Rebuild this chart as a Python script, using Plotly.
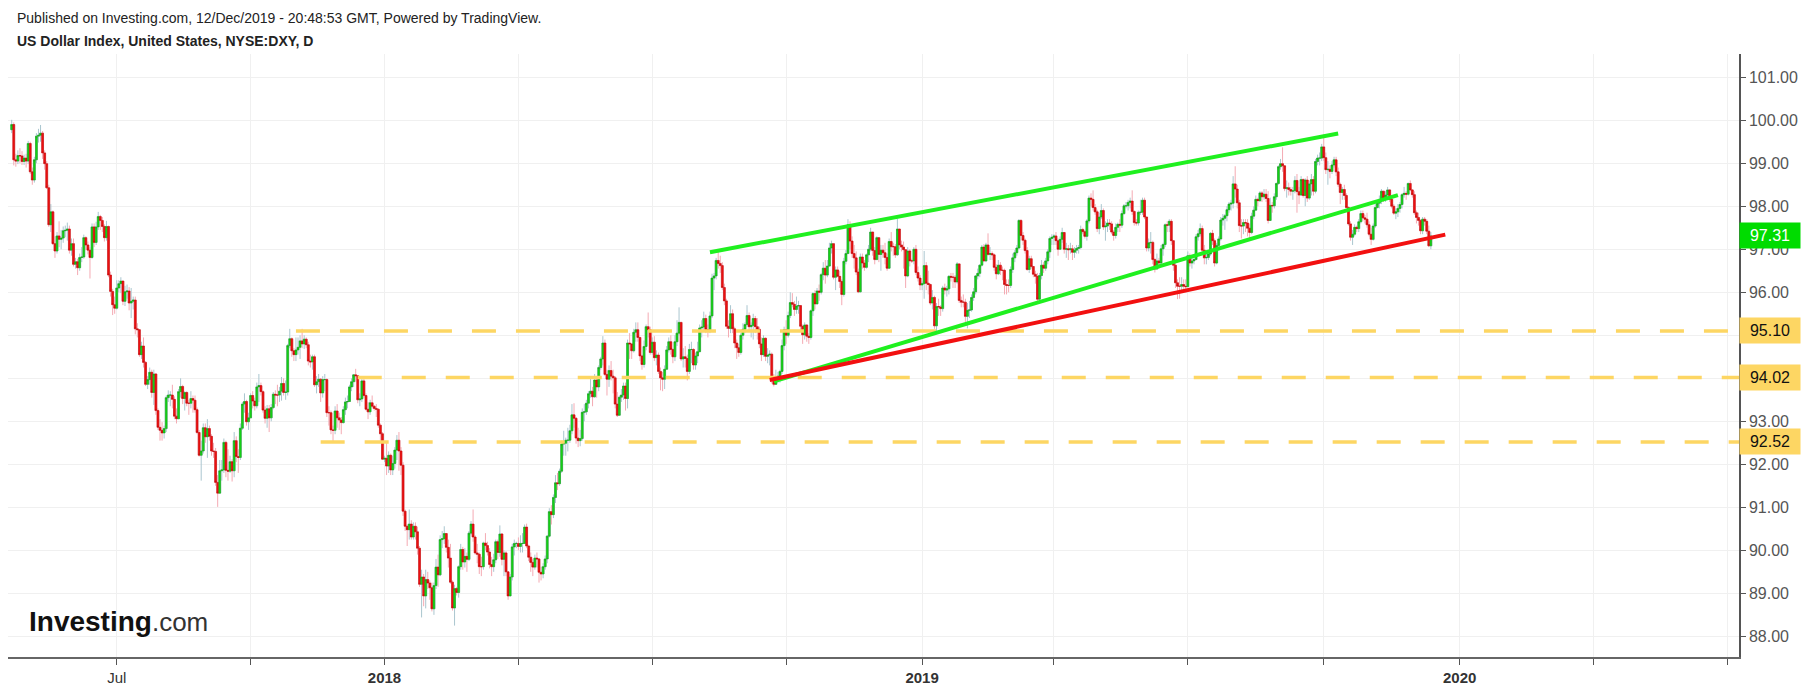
import pandas as pd
import plotly.graph_objects as go

# ---------------- data (US Dollar Index, daily) ----------------
START_DATE = "2017-04-21"
OPEN0 = 99.78

closes = [
    99.90,
    # 2017
    99.08, 99.05, 99.18, 99.17, 99.04,
    99.12, 99.05, 99.46, 98.80, 98.61,
    99.08, 99.63, 99.65, 99.70, 99.24,
    98.99, 98.43, 97.57, 97.87, 97.13,
    96.96, 97.31, 97.23, 97.26, 97.43,
    97.44, 97.47, 96.98, 97.13, 96.65,
    96.71, 96.57, 96.81, 96.82, 97.27,
    97.10, 96.98, 96.81, 97.52, 97.16,
    97.52, 97.76, 97.67, 97.53, 97.27,
    97.53, 96.40, 96.02, 95.71, 95.63,
    96.10, 96.20, 96.26, 95.79, 96.01,
    96.03, 95.75, 95.79, 95.82, 95.15,
    95.13, 94.55, 94.75, 94.37, 93.86,
    93.97, 94.14, 93.67, 94.10, 93.25,
    92.86, 92.79, 92.73, 92.83, 93.55,
    93.61, 93.61, 93.51, 93.12, 93.06,
    93.69, 93.81, 93.53, 93.67, 93.42,
    93.42, 93.53, 93.49, 93.27, 92.74,
    92.21, 92.31, 92.85, 92.64, 92.83,
    92.65, 92.31, 92.30, 91.58, 91.33,
    91.85, 91.87, 92.51, 91.86, 91.84,
    92.06, 91.85, 92.55, 92.18, 92.16,
    92.84, 93.40, 93.46, 92.99, 93.08,
    93.60, 93.47, 93.36, 93.80, 93.83,
    93.69, 93.26, 93.07, 93.29, 93.08,
    93.32, 93.63, 93.61, 93.61, 93.70,
    93.88, 93.67, 93.68, 94.76, 94.92,
    94.64, 94.55, 94.66, 94.72, 94.87,
    94.80, 94.91, 94.78, 94.40, 94.38,
    94.50, 93.85, 93.92, 93.98, 93.66,
    93.97, 93.97, 93.20, 93.20, 92.80,
    92.79, 93.24, 93.08, 93.03, 92.97,
    93.27, 93.45, 93.46, 93.80, 93.92,
    94.08, 94.06, 93.50, 93.52, 93.94,
    93.60, 93.28, 93.22, 93.43, 93.35,
    93.30, 93.28, 92.91, 92.71, 92.12,
    # 2018
    92.14, 91.96, 92.21, 91.87, 92.02,
    92.33, 92.56, 92.31, 91.98, 90.91,
    90.56, 90.48, 90.61, 90.31, 90.56,
    90.43, 90.05, 89.21, 89.38, 88.94,
    89.32, 89.24, 89.13, 88.64, 89.18,
    89.61, 89.43, 90.25, 90.27, 90.39,
    90.07, 89.82, 89.26, 88.66, 89.11,
    89.02, 89.62, 90.02, 89.73, 89.86,
    89.79, 90.40, 90.61, 90.31, 89.94,
    89.91, 89.62, 89.62, 90.17, 90.11,
    89.96, 89.67, 89.62, 89.78, 90.20,
    89.95, 90.38, 89.79, 89.94, 89.50,
    88.94, 89.38, 90.08, 90.16, 90.16,
    90.09, 90.16, 90.16, 90.54, 90.10,
    89.84, 89.72, 89.61, 89.82, 89.80,
    89.49, 89.45, 89.62, 89.80, 90.33,
    90.90, 90.83, 91.23, 91.57, 91.55,
    91.84, 92.47, 92.49, 92.56, 92.56,
    92.78, 93.15, 93.07, 92.61, 92.55,
    92.60, 93.21, 93.22, 93.42, 93.64,
    93.70, 93.57, 93.96, 93.80, 94.25,
    94.45, 94.82, 94.09, 93.98, 94.18,
    94.05, 94.01, 93.40, 93.14, 93.56,
    93.61, 93.82, 93.53, 94.82, 94.80,
    94.64, 95.07, 95.13, 94.95, 94.52,
    94.32, 94.74, 95.20, 95.13, 94.60,
    94.84, 94.48, 94.54, 94.16, 94.01,
    93.98, 94.21, 94.66, 94.85, 94.67,
    94.50, 94.85, 95.05, 95.30, 94.45,
    94.50, 94.46, 94.16, 94.67, 94.67,
    94.31, 94.52, 94.62, 95.17, 95.19,
    95.39, 95.13, 95.10, 95.45, 96.33,
    96.38, 96.74, 96.67, 96.62, 96.11,
    95.80, 95.21, 95.16, 95.50, 95.15,
    94.82, 94.71, 94.60, 95.00, 95.14,
    95.25, 95.46, 95.20, 95.23, 95.39,
    95.20, 95.14, 94.80, 94.55, 94.93,
    94.51, 94.54, 94.56, 93.96, 93.86,
    93.98, 94.05, 94.16, 94.76, 95.13,
    95.00, 95.46, 95.76, 95.72, 95.60,
    95.68, 95.69, 95.21, 95.01, 95.24,
    94.98, 94.95, 95.57, 95.97, 95.73,
    96.03, 96.00, 96.41, 96.56, 96.40,
    96.61, 97.03, 97.13, 96.35, 96.52,
    96.37, 96.25, 95.95, 96.72, 96.90,
    97.57, 97.19, 96.90, 96.80, 96.47,
    96.01, 96.82, 96.68, 96.58, 96.87,
    97.00, 97.40, 96.97, 96.76, 97.27,
    96.88, 96.98, 96.92, 96.81, 96.56,
    97.18, 97.06, 97.06, 96.87, 97.47,
    97.10, 97.05, 96.99, 96.38, 96.96,
    96.73, 96.73, 97.00, 96.46, 96.33,
    # 2019
    96.17, 96.20, 96.62, 96.21, 96.18,
    95.75, 95.88, 95.22, 95.67, 95.66,
    95.62, 96.10, 96.05, 96.08, 96.37,
    96.35, 96.35, 96.24, 96.66, 95.81,
    95.77, 95.77, 95.44, 95.58, 95.59,
    95.88, 96.01, 96.38, 96.44, 96.63,
    97.05, 96.73, 97.10, 96.88, 96.90,
    96.87, 96.58, 96.43, 96.63, 96.51,
    96.51, 96.18, 96.16, 96.16, 96.53,
    96.80, 96.92, 97.03, 97.67, 97.32,
    97.21, 96.97, 96.53, 96.78, 96.60,
    96.42, 96.37, 95.84, 96.39, 96.63,
    96.56, 96.73, 96.94, 97.25, 97.28,
    97.31, 97.20, 97.00, 97.23, 97.39,
    97.00, 97.01, 96.99, 97.01, 96.93,
    96.98, 97.02, 97.04, 97.46, 97.41,
    97.30, 97.66, 98.19, 98.16, 97.97,
    97.87, 97.48, 97.75, 97.90, 97.52,
    97.54, 97.61, 97.59, 97.40, 97.32,
    97.51, 97.58, 97.56, 97.83, 98.01,
    98.01, 98.09, 98.12, 97.88, 97.62,
    97.61, 97.86, 97.86, 98.14, 97.75,
    97.03, 97.15, 97.16, 96.76, 96.54,
    96.73, 96.68, 97.01, 97.11, 97.57,
    97.56, 97.65, 97.20, 96.63, 96.22,
    96.14, 96.14, 96.18, 96.14, 96.13,
    96.85, 96.68, 96.73, 96.76, 97.29,
    97.36, 97.48, 96.98, 96.80, 96.81,
    96.89, 97.37, 97.20, 96.68, 97.09,
    97.24, 97.68, 97.72, 97.78, 97.92,
    98.05, 98.07, 98.52, 98.40, 98.08,
    97.55, 97.54, 97.62, 97.61, 97.49,
    97.39, 97.77, 97.91, 98.16, 98.13,
    98.31, 98.22, 98.28, 98.18, 97.67,
    98.02, 98.01, 98.22, 98.53, 98.92,
    98.99, 98.94, 98.41, 98.43, 98.39,
    98.35, 98.36, 98.60, 98.34, 98.26,
    98.62, 98.25, 98.61, 98.19, 98.52,
    98.62, 98.35, 99.04, 99.12, 99.12,
    99.38, 99.13, 98.85, 98.86, 98.81,
    98.96, 99.08, 98.80, 98.51, 98.32,
    98.39, 98.25, 97.97, 97.59, 97.28,
    97.35, 97.51, 97.48, 97.64, 97.83,
    97.73, 97.70, 97.57, 97.35, 97.23,
    97.54, 97.97, 98.07, 98.13, 98.35,
    98.19, 98.26, 98.38, 98.16, 98.00,
    97.84, 97.87, 97.95, 98.04, 98.27,
    98.30, 98.28, 98.53, 98.38, 98.27,
    97.85, 97.74, 97.67, 97.43, 97.70,
    97.65, 97.42, 97.08, 97.31,
]

highs = [
    100.01,
    # 2017
    99.95, 99.22, 99.30, 99.35, 99.28,
    99.20, 99.22, 99.52, 99.50, 98.90,
    99.15, 99.70, 99.80, 99.89, 99.75,
    99.30, 99.05, 98.50, 98.05, 97.90,
    97.30, 97.40, 97.65, 97.45, 97.53,
    97.55, 97.62, 97.55, 97.25, 97.25,
    96.80, 96.78, 96.90, 97.05, 97.34,
    97.30, 97.18, 97.05, 97.60, 97.60,
    97.64, 97.87, 97.80, 97.75, 97.58,
    97.66, 97.55, 96.48, 96.08, 95.90,
    96.28, 96.28, 96.35, 96.25, 96.15,
    96.18, 96.12, 96.10, 95.90, 95.90,
    95.28, 95.14, 94.85, 94.95, 94.40,
    94.05, 94.25, 94.20, 94.20, 94.12,
    93.30, 93.05, 92.98, 92.90, 93.60,
    93.72, 93.70, 93.85, 93.58, 93.30,
    93.75, 94.00, 93.85, 93.70, 93.70,
    93.50, 93.70, 93.60, 93.60, 93.32,
    92.80, 92.55, 92.95, 92.95, 93.05,
    92.90, 92.70, 92.50, 92.38, 91.75,
    92.10, 92.10, 92.60, 92.55, 92.35,
    92.20, 92.12, 92.75, 92.65, 92.35,
    92.95, 93.45, 93.65, 93.50, 93.20,
    93.65, 93.70, 93.55, 93.90, 94.10,
    93.90, 93.72, 93.35, 93.38, 93.38,
    93.40, 93.68, 93.72, 93.85, 93.80,
    94.03, 94.00, 93.95, 94.80, 95.15,
    94.95, 94.70, 94.95, 94.95, 95.00,
    95.15, 95.00, 94.95, 94.85, 94.55,
    94.55, 94.55, 94.05, 94.10, 94.00,
    94.05, 94.10, 94.00, 93.35, 93.25,
    92.90, 93.35, 93.40, 93.20, 93.10,
    93.35, 93.55, 93.60, 93.85, 94.00,
    94.10, 94.22, 94.05, 93.65, 94.00,
    94.05, 93.65, 93.45, 93.50, 93.60,
    93.38, 93.40, 93.30, 92.95, 92.75,
    # 2018
    92.20, 92.50, 92.30, 92.25, 92.20,
    92.40, 92.68, 92.75, 92.40, 92.05,
    90.95, 90.60, 90.95, 90.70, 90.65,
    90.65, 90.55, 90.10, 89.55, 89.45,
    89.55, 89.50, 89.30, 89.25, 89.25,
    89.80, 89.90, 90.35, 90.45, 90.56,
    90.38, 90.25, 90.15, 89.30, 89.20,
    89.15, 89.65, 90.15, 90.08, 90.05,
    89.95, 90.45, 90.68, 90.95, 90.35,
    90.15, 89.95, 89.85, 90.20, 90.40,
    90.20, 90.05, 89.85, 89.92, 90.25,
    90.25, 90.58, 90.40, 90.00, 89.98,
    89.50, 89.45, 90.15, 90.25, 90.20,
    90.30, 90.35, 90.40, 90.60, 90.62,
    90.13, 89.95, 89.80, 89.90, 89.95,
    89.82, 89.62, 89.70, 89.88, 90.35,
    90.98, 91.05, 91.30, 91.75, 91.80,
    91.90, 92.55, 92.78, 92.62, 92.85,
    92.92, 93.40, 93.42, 93.10, 92.85,
    92.80, 93.30, 93.40, 93.50, 93.70,
    94.00, 93.80, 94.10, 94.05, 94.30,
    94.50, 94.98, 94.90, 94.20, 94.30,
    94.40, 94.20, 94.05, 93.68, 93.60,
    93.75, 93.90, 93.90, 94.90, 95.05,
    94.80, 95.15, 95.30, 95.30, 94.95,
    94.55, 94.88, 95.25, 95.53, 95.20,
    94.95, 94.98, 94.65, 94.60, 94.25,
    94.15, 94.30, 94.75, 94.95, 95.00,
    94.70, 95.00, 95.35, 95.65, 95.30,
    94.70, 94.75, 94.55, 94.80, 94.85,
    94.70, 94.60, 94.85, 95.25, 95.35,
    95.55, 95.48, 95.25, 95.55, 96.43,
    96.45, 96.80, 96.98, 96.85, 96.70,
    96.20, 95.85, 95.35, 95.70, 95.60,
    95.20, 94.90, 94.80, 95.05, 95.28,
    95.30, 95.70, 95.53, 95.30, 95.50,
    95.45, 95.40, 95.20, 94.95, 95.00,
    94.95, 94.70, 94.65, 94.60, 94.10,
    94.20, 94.15, 94.20, 94.90, 95.20,
    95.35, 95.55, 96.00, 95.98, 95.80,
    95.90, 95.80, 95.70, 95.25, 95.30,
    95.25, 95.05, 95.60, 96.00, 96.05,
    96.10, 96.18, 96.45, 96.70, 96.75,
    96.75, 97.15, 97.20, 97.10, 96.60,
    96.60, 96.50, 96.30, 96.80, 96.98,
    97.70, 97.65, 97.30, 97.10, 96.95,
    96.55, 96.90, 96.90, 96.75, 96.90,
    97.10, 97.50, 97.40, 97.05, 97.30,
    97.15, 97.10, 97.10, 97.15, 96.90,
    97.25, 97.40, 97.15, 97.12, 97.71,
    97.45, 97.20, 97.18, 97.00, 97.05,
    97.00, 96.78, 97.05, 97.10, 96.60,
    # 2019
    96.40, 96.25, 96.96, 96.70, 96.50,
    96.20, 96.05, 95.92, 95.75, 95.85,
    95.70, 96.15, 96.20, 96.15, 96.40,
    96.45, 96.45, 96.40, 96.70, 96.65,
    95.90, 95.95, 95.85, 95.75, 95.80,
    95.95, 96.10, 96.40, 96.55, 96.65,
    97.10, 97.12, 97.15, 97.37, 97.05,
    96.95, 96.90, 96.65, 96.75, 96.70,
    96.60, 96.55, 96.30, 96.30, 96.60,
    96.90, 96.98, 97.10, 97.70, 97.70,
    97.40, 97.25, 97.05, 96.85, 96.85,
    96.60, 96.50, 96.45, 96.45, 96.75,
    96.70, 96.80, 97.00, 97.30, 97.35,
    97.35, 97.40, 97.25, 97.30, 97.50,
    97.40, 97.15, 97.10, 97.15, 97.10,
    97.05, 97.10, 97.10, 97.55, 97.50,
    97.45, 97.70, 98.25, 98.30, 98.37,
    98.05, 97.92, 97.85, 98.05, 97.95,
    97.65, 97.70, 97.70, 97.65, 97.45,
    97.60, 97.62, 97.70, 97.90, 98.05,
    98.10, 98.15, 98.20, 98.37, 97.90,
    97.70, 97.90, 98.15, 98.20, 98.20,
    97.75, 97.25, 97.40, 97.20, 96.80,
    96.90, 96.80, 97.10, 97.15, 97.60,
    97.65, 97.70, 97.70, 97.20, 96.70,
    96.30, 96.35, 96.35, 96.30, 96.30,
    96.95, 96.90, 96.80, 96.80, 97.35,
    97.45, 97.60, 97.55, 97.10, 96.90,
    96.95, 97.40, 97.45, 97.25, 97.15,
    97.30, 97.75, 97.82, 97.82, 98.00,
    98.10, 98.15, 98.70, 98.93, 98.50,
    98.15, 97.70, 97.70, 97.70, 97.70,
    97.60, 97.85, 98.00, 98.25, 98.20,
    98.35, 98.35, 98.40, 98.40, 98.35,
    98.20, 98.10, 98.30, 98.55, 98.95,
    99.10, 99.37, 98.95, 98.60, 98.55,
    98.45, 98.45, 98.70, 98.75, 98.45,
    98.70, 98.65, 98.65, 98.70, 98.60,
    98.75, 98.70, 99.10, 99.20, 99.25,
    99.45, 99.67, 99.25, 99.05, 98.95,
    99.05, 99.15, 99.15, 98.90, 98.55,
    98.45, 98.50, 98.30, 98.00, 97.65,
    97.45, 97.58, 97.55, 97.70, 97.90,
    97.90, 97.80, 97.85, 97.65, 97.50,
    97.60, 98.05, 98.10, 98.25, 98.40,
    98.35, 98.35, 98.45, 98.40, 98.20,
    98.05, 97.95, 98.05, 98.10, 98.30,
    98.45, 98.35, 98.55, 98.60, 98.40,
    98.35, 97.90, 97.85, 97.70, 97.75,
    97.75, 97.70, 97.55, 97.40,
]

lows = [
    99.70,
    # 2017
    98.95, 98.92, 98.98, 99.00, 98.96,
    98.96, 98.90, 98.98, 98.75, 98.50,
    98.55, 99.00, 99.48, 99.50, 99.10,
    98.85, 98.40, 97.52, 97.40, 97.10,
    96.80, 96.90, 97.05, 97.00, 97.15,
    97.28, 97.20, 96.90, 96.85, 96.60,
    96.55, 96.40, 96.50, 96.70, 96.78,
    96.98, 96.88, 96.32, 96.78, 97.05,
    97.10, 97.45, 97.45, 97.40, 97.18,
    97.20, 96.35, 95.90, 95.47, 95.50,
    95.60, 96.00, 95.98, 95.70, 95.68,
    95.85, 95.58, 95.40, 95.60, 95.02,
    94.95, 94.50, 94.45, 94.25, 93.82,
    93.75, 93.85, 93.55, 93.38, 93.15,
    92.80, 92.55, 92.55, 92.60, 92.75,
    93.45, 93.35, 93.30, 93.05, 92.95,
    93.05, 93.55, 93.40, 93.25, 93.35,
    93.15, 93.30, 93.20, 93.20, 92.70,
    92.18, 91.62, 92.25, 92.50, 92.15,
    92.55, 92.20, 92.15, 91.50, 91.01,
    91.60, 91.62, 91.80, 91.70, 91.62,
    91.80, 91.60, 91.70, 92.05, 91.80,
    92.10, 92.80, 93.20, 92.90, 92.80,
    93.10, 93.30, 93.25, 93.30, 93.45,
    93.60, 93.20, 92.95, 92.85, 92.75,
    93.00, 93.28, 93.40, 93.35, 93.45,
    93.48, 93.60, 93.50, 93.60, 94.70,
    94.50, 94.40, 94.40, 94.55, 94.45,
    94.70, 94.68, 94.70, 94.30, 94.25,
    94.20, 93.80, 93.65, 93.80, 93.45,
    93.55, 93.70, 93.10, 92.90, 92.70,
    92.50, 92.70, 92.85, 92.80, 92.70,
    92.95, 93.15, 93.30, 93.45, 93.70,
    93.80, 93.92, 93.42, 93.35, 93.45,
    93.55, 93.25, 93.05, 93.15, 93.30,
    93.25, 93.10, 92.85, 92.55, 92.10,
    # 2018
    92.05, 91.75, 91.80, 91.75, 91.75,
    91.90, 92.10, 91.85, 91.75, 90.80,
    90.45, 90.10, 90.25, 90.25, 90.25,
    90.25, 89.90, 89.15, 88.44, 88.70,
    88.65, 89.10, 88.85, 88.58, 88.50,
    89.10, 89.15, 89.40, 90.05, 90.15,
    89.95, 89.60, 89.22, 88.60, 88.25,
    88.95, 88.90, 89.55, 89.55, 89.60,
    89.50, 89.75, 90.35, 90.20, 89.90,
    89.70, 89.45, 89.40, 89.55, 90.00,
    89.88, 89.58, 89.40, 89.50, 89.70,
    89.80, 89.85, 89.65, 89.40, 89.40,
    88.85, 88.95, 89.30, 89.88, 90.05,
    90.00, 89.95, 89.95, 90.15, 90.05,
    89.75, 89.50, 89.40, 89.55, 89.60,
    89.25, 89.30, 89.35, 89.55, 89.70,
    90.30, 90.60, 90.75, 91.10, 91.40,
    91.50, 91.80, 92.20, 92.20, 92.30,
    92.50, 92.70, 92.85, 92.48, 92.40,
    92.42, 92.55, 93.00, 93.15, 93.30,
    93.55, 93.35, 93.55, 93.55, 93.70,
    94.20, 94.30, 94.05, 93.60, 93.80,
    93.95, 93.65, 93.30, 93.10, 93.20,
    93.45, 93.50, 93.25, 93.30, 94.45,
    94.45, 94.60, 94.85, 94.85, 94.40,
    94.20, 94.25, 94.65, 94.95, 94.55,
    94.55, 94.40, 94.30, 94.10, 93.72,
    93.70, 93.75, 94.20, 94.60, 94.55,
    94.35, 94.40, 94.75, 95.00, 94.40,
    94.25, 94.25, 93.95, 94.10, 94.35,
    94.20, 94.20, 94.35, 94.60, 94.95,
    95.10, 95.05, 94.95, 95.05, 95.40,
    96.05, 96.30, 96.55, 96.45, 96.05,
    95.70, 95.15, 94.95, 95.05, 95.05,
    94.70, 94.45, 94.50, 94.55, 94.90,
    95.05, 95.20, 95.10, 94.95, 94.90,
    95.05, 94.90, 94.70, 94.40, 94.50,
    94.40, 94.35, 94.30, 93.88, 93.81,
    93.85, 93.90, 93.90, 94.10, 94.65,
    94.80, 94.95, 95.40, 95.65, 95.45,
    95.50, 95.50, 95.10, 94.80, 94.90,
    94.85, 94.80, 94.90, 95.45, 95.60,
    95.75, 95.80, 95.95, 96.28, 96.20,
    96.35, 96.60, 96.90, 96.30, 96.05,
    96.35, 96.10, 95.70, 95.90, 96.65,
    96.90, 97.00, 96.80, 96.55, 96.40,
    95.98, 96.00, 96.55, 96.50, 96.55,
    96.70, 96.95, 96.85, 96.65, 96.75,
    96.70, 96.50, 96.80, 96.65, 96.50,
    96.55, 96.95, 96.85, 96.80, 96.85,
    97.00, 96.95, 96.55, 96.10, 96.35,
    96.60, 96.68, 96.65, 96.40, 96.25,
    # 2019
    96.05, 96.05, 95.85, 96.05, 95.95,
    95.70, 95.60, 95.15, 95.03, 95.45,
    95.45, 95.55, 95.95, 95.90, 95.95,
    96.25, 96.10, 96.10, 96.20, 95.75,
    95.65, 95.65, 95.30, 95.16, 95.40,
    95.55, 95.80, 95.95, 96.30, 96.35,
    96.60, 96.70, 96.70, 96.85, 96.75,
    96.75, 96.50, 96.30, 96.40, 96.40,
    96.28, 95.95, 95.95, 96.00, 96.10,
    96.45, 96.70, 96.85, 97.00, 97.20,
    97.10, 96.90, 96.50, 96.45, 96.55,
    96.35, 96.20, 95.75, 95.80, 96.30,
    96.45, 96.50, 96.65, 96.80, 97.10,
    97.10, 97.10, 96.85, 97.00, 97.15,
    96.90, 96.80, 96.75, 96.90, 96.75,
    96.80, 96.90, 96.90, 97.00, 97.35,
    97.25, 97.20, 97.60, 98.00, 97.90,
    97.80, 97.40, 97.35, 97.70, 97.45,
    97.20, 97.40, 97.45, 97.35, 97.20,
    97.25, 97.40, 97.40, 97.50, 97.80,
    97.95, 97.90, 97.95, 97.80, 97.55,
    97.55, 97.55, 97.80, 97.80, 97.70,
    96.95, 96.95, 96.90, 96.65, 96.46,
    96.55, 96.55, 96.65, 96.85, 97.05,
    97.40, 97.40, 97.10, 96.50, 96.10,
    95.84, 95.85, 96.05, 96.00, 96.00,
    96.30, 96.60, 96.55, 96.65, 96.75,
    97.20, 97.30, 96.90, 96.65, 96.65,
    96.75, 96.85, 97.10, 96.60, 96.65,
    97.05, 97.20, 97.55, 97.45, 97.65,
    97.85, 97.90, 97.95, 98.20, 97.95,
    97.40, 97.25, 97.35, 97.40, 97.30,
    97.20, 97.35, 97.70, 97.90, 98.00,
    98.10, 98.10, 98.15, 98.10, 97.60,
    97.70, 97.85, 97.95, 98.15, 98.50,
    98.85, 98.80, 98.35, 98.20, 98.25,
    98.25, 98.15, 98.30, 97.85, 98.05,
    98.30, 98.20, 98.00, 98.10, 98.15,
    98.25, 98.25, 98.30, 98.95, 98.95,
    99.05, 99.05, 98.75, 98.50, 98.65,
    98.75, 98.90, 98.70, 98.45, 98.05,
    98.15, 98.15, 97.95, 97.55, 97.20,
    97.10, 97.30, 97.40, 97.40, 97.60,
    97.65, 97.60, 97.50, 97.30, 97.10,
    97.20, 97.50, 97.95, 97.95, 98.05,
    98.10, 98.10, 98.20, 98.10, 97.95,
    97.80, 97.70, 97.75, 97.85, 97.95,
    98.20, 98.15, 98.25, 98.35, 98.20,
    97.80, 97.60, 97.55, 97.35, 97.35,
    97.55, 97.35, 97.05, 97.00,
]

# horizontal support / resistance levels and where they start
level_values = [95.10, 94.02, 92.52]
level_starts = ["2017-11-01", "2017-12-13", "2017-11-17"]

# drawn trend lines: (start date, start price) -> (end date, end price)
upper_green_dates = ["2018-08-09", "2019-10-10"]
upper_green_prices = [96.93, 99.69]
lower_green_dates = ["2018-09-21", "2019-11-20"]
lower_green_prices = [93.93, 98.26]
red_dates = ["2018-09-19", "2019-12-23"]
red_prices = [93.96, 97.34]

last_price_label = "97.31"

tick_quarters = ["2017-07", "2017-10", "2018-01", "2018-04", "2018-07", "2018-10",
                 "2019-01", "2019-04", "2019-07", "2019-10", "2020-01", "2020-04", "2020-07"]
tick_labels = ["Jul", "", "<b>2018</b>", "", "", "", "<b>2019</b>", "", "", "", "<b>2020</b>", "", ""]

y_ticks = [88, 89, 90, 91, 92, 93, 94, 95, 96, 97, 98, 99, 100, 101]
# labels hidden behind the level boxes (94.02, 95.10) are left blank
y_tick_labels = ["88.00", "89.00", "90.00", "91.00", "92.00", "93.00", "", "",
                 "96.00", "97.00", "98.00", "99.00", "100.00", "101.00"]

# ---------------- styling ----------------
W, H = 1813, 694
PLOT_L, PLOT_R, PLOT_T, PLOT_B = 8, 1739, 54, 660
UP_BODY, DN_BODY = "#16d616", "#f01212"
UP_EDGE, DN_EDGE = "#109e10", "#b80000"
UP_WICK, DN_WICK = "#aac6cf", "#f4aab3"
LEVEL_COLOR = "#fdd663"
GREEN_LINE, RED_LINE = "#1ff01f", "#f21010"
FONT = "Arial, 'Liberation Sans', sans-serif"

n = min(len(closes), len(highs), len(lows))
closes, highs, lows = closes[:n], highs[:n], lows[:n]
opens = [OPEN0] + closes[:-1]
hi = [max(h, o, c) for h, o, c in zip(highs, opens, closes)]
lo = [min(l, o, c) for l, o, c in zip(lows, opens, closes)]
body_hi = [max(o, c) for o, c in zip(opens, closes)]
body_lo = [min(o, c) for o, c in zip(opens, closes)]
xs = list(range(n))

all_days = pd.bdate_range(START_DATE, "2020-12-31")


def bar_of(date_str):
    return int(all_days.searchsorted(pd.Timestamp(date_str)))


tickvals = [bar_of(q + "-01") for q in tick_quarters]
x_range = [-1.8, 838.6]

fig = go.Figure()

# wicks (pale)
fig.add_trace(go.Candlestick(
    x=xs, open=opens, high=hi, low=lo, close=closes,
    increasing=dict(line=dict(color=UP_WICK, width=1), fillcolor=UP_WICK),
    decreasing=dict(line=dict(color=DN_WICK, width=1), fillcolor=DN_WICK),
    whiskerwidth=0, hoverinfo="skip", showlegend=False,
))
# bodies
fig.add_trace(go.Candlestick(
    x=xs, open=opens, high=body_hi, low=body_lo, close=closes,
    increasing=dict(line=dict(color=UP_EDGE, width=0.5), fillcolor=UP_BODY),
    decreasing=dict(line=dict(color=DN_EDGE, width=0.5), fillcolor=DN_BODY),
    whiskerwidth=0, hoverinfo="skip", showlegend=False,
))

# dashed levels
for val, start in zip(level_values, level_starts):
    fig.add_trace(go.Scatter(
        x=[bar_of(start), x_range[1] + 20], y=[val, val], mode="lines",
        line=dict(color=LEVEL_COLOR, width=3.5, dash="24px,20px"),
        hoverinfo="skip", showlegend=False,
    ))

# trend lines
for dates, prices, col in [(upper_green_dates, upper_green_prices, GREEN_LINE),
                           (lower_green_dates, lower_green_prices, GREEN_LINE),
                           (red_dates, red_prices, RED_LINE)]:
    fig.add_trace(go.Scatter(
        x=[bar_of(d) for d in dates], y=prices, mode="lines",
        line=dict(color=col, width=4), hoverinfo="skip", showlegend=False,
    ))

plot_w = PLOT_R - PLOT_L
plot_h = PLOT_B - PLOT_T


def px_x(px):
    return (px - PLOT_L) / plot_w


def px_y(py):
    return (PLOT_B - py) / plot_h


annotations = [
    dict(text="Published on Investing.com, 12/Dec/2019 - 20:48:53 GMT, Powered by TradingView.",
         xref="paper", yref="paper", x=px_x(15), y=px_y(17.5), xanchor="left", yanchor="middle",
         showarrow=False, font=dict(family=FONT, size=14, color="#222222")),
    dict(text="<b>US Dollar Index, United States, NYSE:DXY, D</b>",
         xref="paper", yref="paper", x=px_x(15), y=px_y(40.5), xanchor="left", yanchor="middle",
         showarrow=False, font=dict(family=FONT, size=14, color="#222222")),
    dict(text="<b>Investing</b><span style='font-size:26px;color:#333333'>.com</span>",
         xref="paper", yref="paper", x=px_x(27), y=px_y(624), xanchor="left", yanchor="middle",
         showarrow=False, font=dict(family=FONT, size=28, color="#111111")),
]
for val in level_values:
    annotations.append(dict(
        text=f"{val:.2f}", xref="paper", yref="y", x=1, y=val, xanchor="left", yanchor="middle",
        showarrow=False, bgcolor=LEVEL_COLOR, width=58, height=23, align="center",
        font=dict(family=FONT, size=16, color="#111111")))
annotations.append(dict(
    text=last_price_label, xref="paper", yref="y", x=1, y=float(last_price_label),
    xanchor="left", yanchor="middle", showarrow=False, bgcolor="#00dc00",
    width=58, height=23, align="center", font=dict(family=FONT, size=16, color="#ffffff")))

fig.update_layout(
    width=W, height=H,
    margin=dict(l=PLOT_L, r=W - PLOT_R, t=PLOT_T, b=H - PLOT_B, pad=0),
    paper_bgcolor="white", plot_bgcolor="white",
    showlegend=False, boxgap=0.1, boxgroupgap=0,
    annotations=annotations,
    xaxis=dict(
        range=x_range, tickmode="array", tickvals=tickvals, ticktext=tick_labels,
        showgrid=True, gridcolor="#f0f0f0", gridwidth=1,
        ticks="outside", ticklen=6, tickcolor="#555555", tickwidth=1,
        showline=True, linecolor="#666666", linewidth=1.5,
        tickfont=dict(family=FONT, size=15, color="#333333"),
        rangeslider=dict(visible=False), zeroline=False, fixedrange=True,
    ),
    yaxis=dict(
        side="right", range=[87.52, 101.54], tickmode="array", tickvals=y_ticks,
        ticktext=y_tick_labels, showgrid=True, gridcolor="#f0f0f0", gridwidth=1,
        ticks="outside", ticklen=5, tickcolor="#555555", tickwidth=1,
        showline=True, linecolor="#555555", linewidth=1.5,
        tickfont=dict(family=FONT, size=16, color="#555555"),
        zeroline=False, fixedrange=True,
    ),
)

fig.write_html("out.html", config={"displayModeBar": False})
